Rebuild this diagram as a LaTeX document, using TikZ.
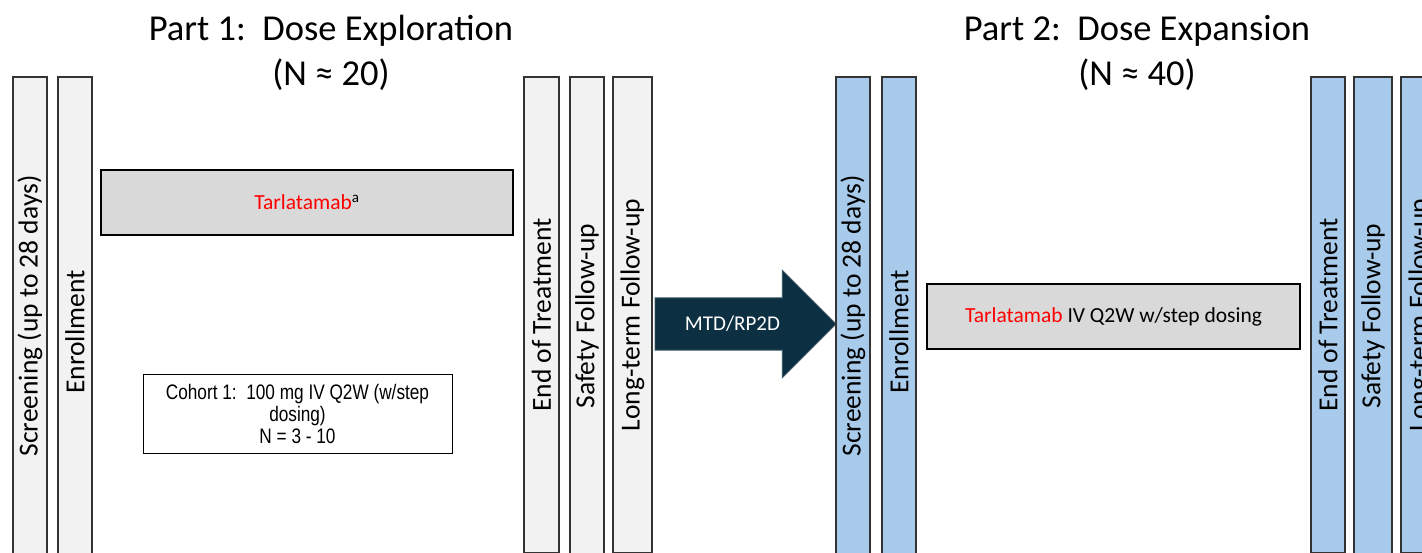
\documentclass[tikz,border=0pt]{standalone}
\usepackage{fontspec}
\usepackage{graphicx}
\setmainfont{Carlito}
\newfontfamily\narrowfont[FakeStretch=0.82]{Liberation Sans}
\usetikzlibrary{shapes.arrows,positioning}

\definecolor{barGrey}{HTML}{F2F2F2}
\definecolor{barBlue}{HTML}{A8CBEB}
\definecolor{boxGrey}{HTML}{D9D9D9}
\definecolor{arrowNavy}{HTML}{0D2F42}
\definecolor{tarRed}{HTML}{FF0000}

\tikzset{
  phasebar/.style={draw=black!80, line width=1.2pt, inner sep=0pt, minimum width=34,
    font=\fontsize{27.5}{30}\selectfont},
  greybar/.style={phasebar, fill=barGrey},
  bluebar/.style={phasebar, fill=barBlue},
  drugbox/.style={draw=black, line width=1.6pt, fill=boxGrey, inner sep=0pt,
    font=\fontsize{21.5}{24}\selectfont},
  cohortbox/.style={draw=black, line width=1pt, fill=white, inner sep=0pt, align=center,
    font=\narrowfont\fontsize{21}{22}\selectfont},
  parttitle/.style={align=center, font=\fontsize{36.5}{45}\selectfont},
  mtdarrow/.style={single arrow, fill=arrowNavy, draw=arrowNavy!80!white, line width=0.8pt,
    single arrow head extend=27.5, single arrow tip angle=90, minimum height=181,
    inner xsep=4, inner ysep=18, text=white, font=\fontsize{21}{24}\selectfont},
}

\begin{document}
\begin{tikzpicture}[x=1pt, y=-1pt]
\useasboundingbox (0,0) rectangle (1422,553);
\clip (0,0) rectangle (1422,553);

% Titles
\node[parttitle] (title1) at (331,53) {Part 1:\ \ Dose Exploration\\(N ≈ 20)};
\node[parttitle] (title2) at (1137,53) {Part 2:\ \ Dose Expansion\\(N ≈ 40)};

% Part 1 bars
\node[greybar, minimum height=478] (scr1) at (30,316) {\rotatebox{90}{Screening (up to 28 days)}};
\node[greybar, minimum height=510] (enr1) at (75,332) {\rotatebox{90}{Enrollment}};
\node[greybar, minimum height=476, minimum width=35] (eot1) at (541.5,315) {\rotatebox{90}{End of Treatment}};
\node[greybar, minimum height=478] (saf1) at (587,316) {\rotatebox{90}{Safety Follow-up}};
\node[greybar, minimum height=476, minimum width=39] (ltf1) at (632.5,315) {\rotatebox{90}{Long-term Follow-up}};

% Part 1 boxes
\node[drugbox, minimum width=412, minimum height=65] (drug1) at (307,202.5)
  {{\color{tarRed}Tarlatamab}\textsuperscript{a}};
\node[cohortbox, minimum width=309, minimum height=79] (coh1) at (297.5,413.5)
  {Cohort 1:\ \ 100 mg IV Q2W (w/step\\dosing)\\N = 3 - 10};

% Transition arrow
\node[mtdarrow, anchor=tail] (mtd) at ([xshift=2pt, yshift=-9pt]ltf1.east) {MTD/RP2D};

% Part 2 bars
\node[bluebar, minimum height=478] (scr2) at (853,316) {\rotatebox{90}{Screening (up to 28 days)}};
\node[bluebar, minimum height=510] (enr2) at (899,332) {\rotatebox{90}{Enrollment}};
\node[bluebar, minimum height=476] (eot2) at (1328,315) {\rotatebox{90}{End of Treatment}};
\node[bluebar, minimum height=478, minimum width=38] (saf2) at (1373,316) {\rotatebox{90}{Safety Follow-up}};
\node[bluebar, minimum height=476, minimum width=39] (ltf2) at (1420.5,315) {\rotatebox{90}{Long-term Follow-up}};

% Part 2 box
\node[drugbox, minimum width=373, minimum height=65] (drug2) at (1113.5,316.5)
  {{\color{tarRed}Tarlatamab} IV Q2W w/step dosing};
\end{tikzpicture}
\end{document}
